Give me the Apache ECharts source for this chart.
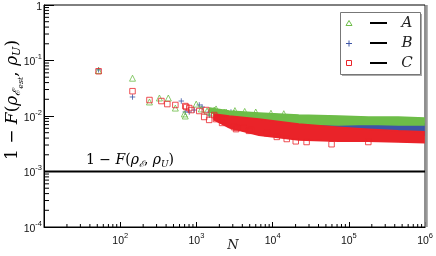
<!DOCTYPE html>
<html><head><meta charset="utf-8">
<script src="https://cdn.jsdelivr.net/npm/echarts@6/dist/echarts.min.js"></script>
<style>html,body{margin:0;padding:0;background:#fff}#c{width:436px;height:256px}</style>
</head><body><div id="c"></div>
<script>
// ---- data ----
const xTickExps = [2, 3, 4, 5, 6];
const yTickExps = [0, -1, -2, -3, -4];
const refValue = 0.001;

// sparse markers [N, 1-F]
const aPts = [[52,0.066],[145,0.048],[242,0.0179],[327,0.0211],[428,0.0211],[529,0.0139],[693,0.0109],[714,0.0100],[994,0.0164],[1160,0.0134],[1380,0.0123],[1560,0.0113],[1710,0.0128],[1810,0.0134],[2310,0.0118],[2450,0.0118],[3110,0.0113],[3200,0.0125],[4300,0.0121],[6000,0.0118],[9500,0.0112],[14000,0.0110]];
const bPts = [[52,0.068],[145,0.022],[633,0.0186],[714,0.0118],[805,0.0118],[935,0.0128],[1090,0.0158],[1190,0.0145],[1470,0.0118],[1480,0.0104],[2840,0.0118],[3100,0.0061]];
const cPts = [[52,0.064],[145,0.028],[242,0.0194],[347,0.0186],[415,0.0164],[529,0.0158],[714,0.0151],[736,0.0145],[805,0.0139],[855,0.0128],[1090,0.0123],[1265,0.0096],[1340,0.0128],[1470,0.0085],[1710,0.0104],[1810,0.0088],[2110,0.0088],[2170,0.0075],[2310,0.0085],[3110,0.0063],[3310,0.0058],[3410,0.0061],[4210,0.0061],[4890,0.0054],[5190,0.0056],[8390,0.0049],[11340,0.0042],[15300,0.00385],[20100,0.0035],[27900,0.0034],[59300,0.0031],[180000,0.0034]];

// dense clouds: envelopes [N], upper, lower
const aBandN  = [1500,2700,6600,22000,73000,180000,445000,970000];
const aBandUp = [0.0139,0.0123,0.0113,0.0104,0.0100,0.0096,0.0096,0.0092];
const aBandLo = [0.0118,0.0085,0.0078,0.0072,0.0069,0.0071,0.0069,0.0069];
const bBandN  = [2700,6600,22000,73000,180000,445000,970000];
const bBandUp = [0.0113,0.0100,0.0092,0.0081,0.0078,0.0075,0.0072];
const bBandLo = [0.0066,0.0058,0.0056,0.0052,0.0049,0.0047,0.0045];
const cBandN  = [1700,2700,6600,22000,73000,180000,445000,970000];
const cBandUp = [0.0109,0.0100,0.0088,0.0072,0.0063,0.0058,0.0054,0.0052];
const cBandLo = [0.0085,0.0061,0.0045,0.0037,0.0035,0.0035,0.0034,0.0033];

const GREEN = '#6dbd48', BLUE = '#3d55a6', RED = '#ea2329';
const SERIF = 'DejaVu Serif';

function band(N, up, lo, color, z) {
  return {
    type: 'custom', coordinateSystem: 'cartesian2d', silent: true, z: z,
    data: [[N[0], up[0]]],
    renderItem: function (p, api) {
      const pts = [];
      for (let i = 0; i < N.length; i++) pts.push(api.coord([N[i], up[i]]));
      for (let i = N.length - 1; i >= 0; i--) pts.push(api.coord([N[i], lo[i]]));
      return { type: 'polygon', shape: { points: pts }, style: { fill: color, stroke: color, lineWidth: 1.5 } };
    }
  };
}
function pts(data, symbol, color, z) {
  return {
    type: 'scatter', data: data, symbol: symbol, symbolSize: symbol === 'triangle' ? 6 : 5.5, z: z,
    itemStyle: { color: 'none', borderColor: color, borderWidth: 1 }
  };
}
const minorTicks = {
  type: 'custom', coordinateSystem: 'cartesian2d', silent: true, clip: false, z: 10,
  data: [[10, 1e-4]],
  renderItem: function (p, api) {
    const ch = [];
    for (let d = 1; d <= 5; d++) for (let k = 2; k <= 9; k++) {
      const c = api.coord([k * Math.pow(10, d), 1e-4]);
      ch.push({ type: 'line', shape: { x1: c[0], y1: c[1], x2: c[0], y2: c[1] - 3 }, style: { stroke: '#000', lineWidth: 1 } });
    }
    for (let d = -4; d <= -1; d++) for (let k = 2; k <= 9; k++) {
      const c = api.coord([10, k * Math.pow(10, d)]);
      ch.push({ type: 'line', shape: { x1: c[0], y1: c[1], x2: c[0] + 5, y2: c[1] }, style: { stroke: '#000', lineWidth: 1 } });
    }
    return { type: 'group', children: ch };
  }
};

const supRich = {
  b: { fontFamily: 'Liberation Sans', fontSize: 10.5, color: '#111', padding: [4, 0, 0, 0], verticalAlign: 'bottom' },
  s: { fontFamily: 'Liberation Sans', fontSize: 7.5, color: '#111', verticalAlign: 'top' }
};

const chart = echarts.init(document.getElementById('c'), null, { renderer: 'canvas' });
chart.setOption({
  animation: false,
  grid: { left: 44, right: 9, top: 5, bottom: 29, show: true, borderColor: '#000', borderWidth: 1 },
  xAxis: {
    type: 'log', logBase: 10, min: 10, max: 1e6, interval: 1,
    axisLine: { lineStyle: { color: '#000', width: 1 } },
    axisTick: { inside: true, length: 5, lineStyle: { color: '#000' } },
    splitLine: { show: false },
    axisLabel: {
      margin: 5, rich: supRich,
      formatter: function (v) { const e = Math.round(Math.log10(v)); return xTickExps.indexOf(e) < 0 ? '' : '{b|10}{s|' + e + '}'; }
    }
  },
  yAxis: {
    type: 'log', logBase: 10, min: 1e-4, max: 1, interval: 1,
    axisLine: { lineStyle: { color: '#000', width: 1 } },
    axisTick: { inside: true, length: 10, lineStyle: { color: '#000' } },
    splitLine: { show: false },
    axisLabel: {
      margin: 2, rich: supRich,
      formatter: function (v) { const e = Math.round(Math.log10(v)); if (yTickExps.indexOf(e) < 0) return ''; return e === 0 ? '{b|1}' : '{b|10}{s|' + e + '}'; }
    }
  },
  series: [
    minorTicks,
    { type: 'line', data: [[10, refValue], [1e6, refValue]], symbol: 'none', lineStyle: { color: '#000', width: 2 }, z: 3 },
    pts(bPts, 'path://M5,0L5,10M0,5L10,5', BLUE, 4),
    band(bBandN, bBandUp, bBandLo, BLUE, 4),
    pts(aPts, 'triangle', GREEN, 5),
    band(aBandN, aBandUp, aBandLo, GREEN, 5),
    pts(cPts, 'rect', RED, 6),
    band(cBandN, cBandUp, cBandLo, RED, 6)
  ],
  graphic: [
    { type: 'line', shape: { x1: 426.5, y1: 5, x2: 426.5, y2: 227 }, style: { stroke: '#999', lineWidth: 2.5 }, z: 20 },
    // y axis title
    { type: 'text', x: 13, y: 100, rotation: Math.PI / 2, z: 20,
      style: { text: '{r|1 − }{i|F}{r|(}{i|ρ}{s|ℰ}{ss|est}{r|, }{i|ρ}{s|U}{r|)}', align: 'center', verticalAlign: 'middle',
        rich: {
          r: { fontFamily: SERIF, fontSize: 17, color: '#222' },
          i: { fontFamily: SERIF, fontStyle: 'italic', fontSize: 17, color: '#222' },
          s: { fontFamily: SERIF, fontStyle: 'italic', fontSize: 11, color: '#222', verticalAlign: 'top', padding: [11, 0, 0, 0] },
          ss: { fontFamily: SERIF, fontStyle: 'italic', fontSize: 8, color: '#222', verticalAlign: 'top', padding: [16, 0, 0, 0] }
        } } },
    // x axis title
    { type: 'text', x: 233, y: 246, z: 20, style: { text: 'N', fontFamily: SERIF, fontStyle: 'italic', fontSize: 13, fill: '#222', align: 'center', verticalAlign: 'middle' } },
    // reference line label
    { type: 'text', x: 130, y: 160, z: 20,
      style: { text: '{r|1 − }{i|F}{r|(}{i|ρ}{s|ℰ}{r|, }{i|ρ}{s|U}{r|)}', align: 'center', verticalAlign: 'middle',
        rich: {
          r: { fontFamily: SERIF, fontSize: 14, color: '#222' },
          i: { fontFamily: SERIF, fontStyle: 'italic', fontSize: 14, color: '#222' },
          s: { fontFamily: SERIF, fontStyle: 'italic', fontSize: 9, color: '#222', verticalAlign: 'top', padding: [9, 0, 0, 0] }
        } } },
    // legend box
    { type: 'rect', shape: { x: 342, y: 14, width: 80, height: 62 }, style: { fill: '#aaa' }, z: 20 },
    { type: 'rect', shape: { x: 340.5, y: 12.5, width: 80, height: 62 }, style: { fill: '#fff', stroke: '#777', lineWidth: 1 }, z: 21 },
    { type: 'polygon', shape: { points: [[349, 20.5], [352, 25.5], [346, 25.5]] }, style: { fill: 'none', stroke: GREEN, lineWidth: 1 }, z: 22 },
    { type: 'line', shape: { x1: 349, y1: 40.5, x2: 349, y2: 46.5 }, style: { stroke: BLUE, lineWidth: 1 }, z: 22 },
    { type: 'line', shape: { x1: 346, y1: 43.5, x2: 352, y2: 43.5 }, style: { stroke: BLUE, lineWidth: 1 }, z: 22 },
    { type: 'rect', shape: { x: 346.5, y: 60.5, width: 5, height: 5 }, style: { fill: 'none', stroke: RED, lineWidth: 1 }, z: 22 },
    { type: 'line', shape: { x1: 370, y1: 23, x2: 387, y2: 23 }, style: { stroke: '#000', lineWidth: 2 }, z: 22 },
    { type: 'line', shape: { x1: 370, y1: 43, x2: 387, y2: 43 }, style: { stroke: '#000', lineWidth: 2 }, z: 22 },
    { type: 'line', shape: { x1: 370, y1: 63, x2: 387, y2: 63 }, style: { stroke: '#000', lineWidth: 2 }, z: 22 },
    { type: 'text', x: 407, y: 23, z: 22, style: { text: 'A', fontFamily: SERIF, fontStyle: 'italic', fontSize: 15, fill: '#222', align: 'center', verticalAlign: 'middle' } },
    { type: 'text', x: 407, y: 43, z: 22, style: { text: 'B', fontFamily: SERIF, fontStyle: 'italic', fontSize: 15, fill: '#222', align: 'center', verticalAlign: 'middle' } },
    { type: 'text', x: 407, y: 63, z: 22, style: { text: 'C', fontFamily: SERIF, fontStyle: 'italic', fontSize: 15, fill: '#222', align: 'center', verticalAlign: 'middle' } }
  ]
});
</script>
</body></html>
